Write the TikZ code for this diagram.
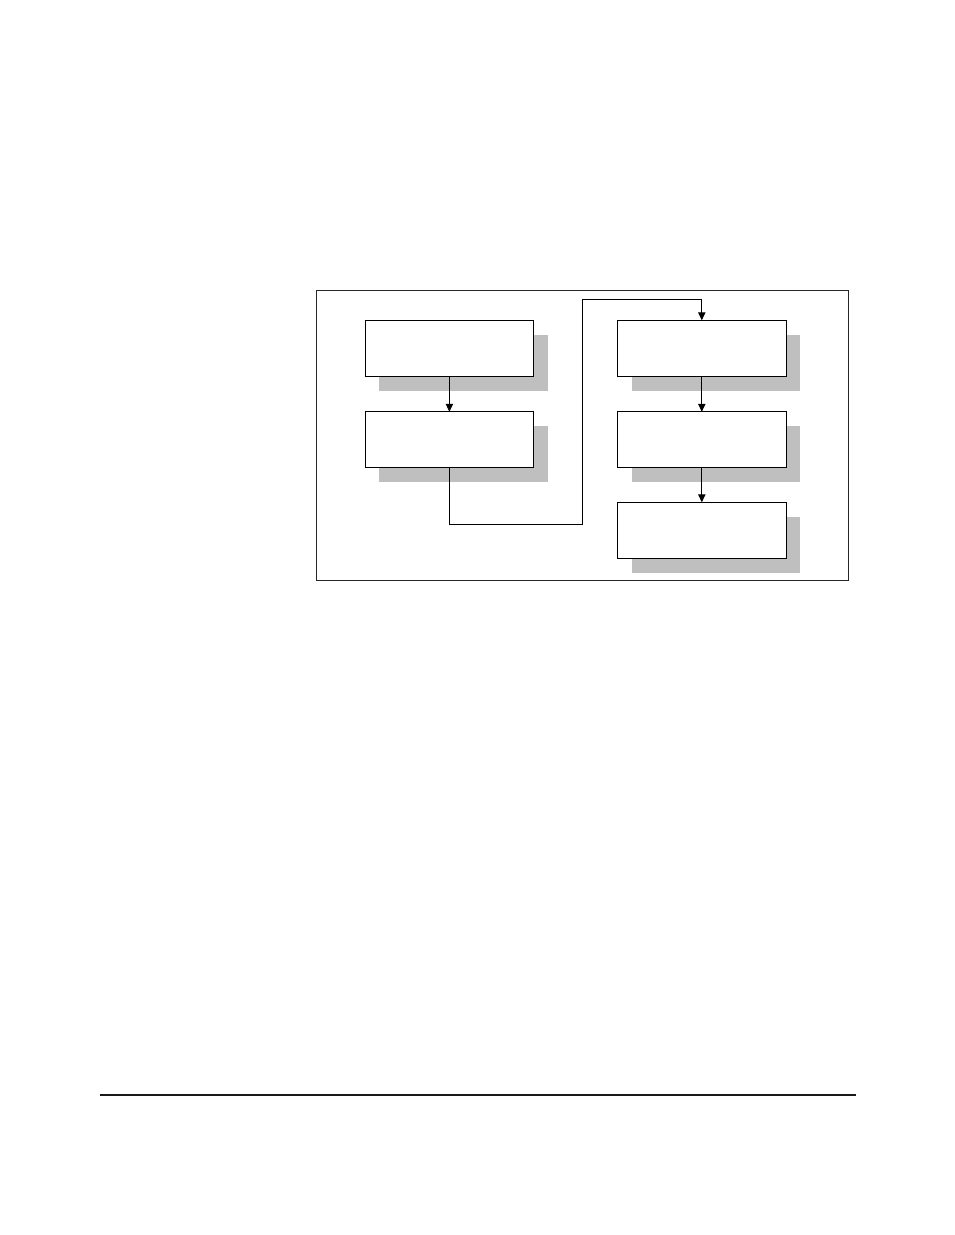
\documentclass[tikz,border=0pt]{standalone}
\usetikzlibrary{arrows.meta}
\begin{document}
\begin{tikzpicture}[x=0.75pt,y=-0.75pt,
  box/.style={draw=black,fill=white,line width=0.75pt,minimum width=126.4pt,minimum height=42pt,inner sep=0pt,outer sep=0pt},
  shadowbox/.style={fill=black!25,draw=none,minimum width=126.4pt,minimum height=42pt,inner sep=0pt,outer sep=0pt},
  conn/.style={line width=0.75pt,draw=black},
  arr/.style={conn,-{Triangle[length=6pt,width=5.5pt]}}]
\useasboundingbox (0,0) rectangle (954,1235);
\fill[white] (0,0) rectangle (954,1235);
% frame
\draw[line width=0.75pt,draw=black!85] (316,290) rectangle (848,580);
% shadows
\node[shadowbox] (s1) at (463.6,362.8) {};
\node[shadowbox] (s2) at (463.6,453.8) {};
\node[shadowbox] (s3) at (716.2,362.8) {};
\node[shadowbox] (s4) at (716.2,453.8) {};
\node[shadowbox] (s5) at (716.2,544.8) {};
% boxes
\node[box] (b1) at (449.4,348.3) {};
\node[box] (b2) at (449.4,439.8) {};
\node[box] (b3) at (701.8,348.3) {};
\node[box] (b4) at (701.8,439.8) {};
\node[box] (b5) at (701.8,530.3) {};
% connectors
\coordinate (c1) at (449.4,524.3);
\coordinate (c2) at (582.5,524.3);
\coordinate (c3) at (582.5,299.3);
\coordinate (c4) at (701.8,299.3);
\draw[arr] (b1.south) -- (b2.north);
\draw[arr] (b2.south) -- (c1) -- (c2) -- (c3) -- (c4) -- (b3.north);
\draw[arr] (b3.south) -- (b4.north);
\draw[arr] (b4.south) -- (b5.north);
% footer rule
\coordinate (f1) at (100,1095);
\coordinate (f2) at (856,1095);
\draw[line width=1.3pt,draw=black!90] (f1) -- (f2);
\end{tikzpicture}
\end{document}
